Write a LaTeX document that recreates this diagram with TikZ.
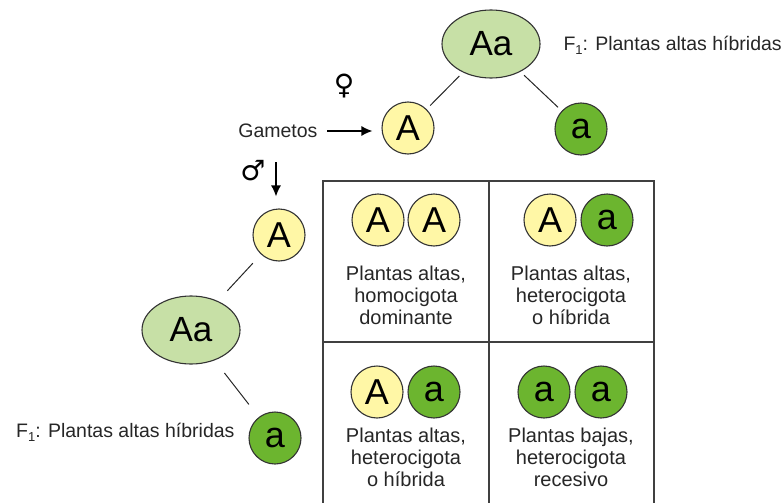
\documentclass[tikz,border=0pt]{standalone}
\usepackage{fontspec}
\setmainfont{Liberation Sans}
\newfontfamily\symfont{DejaVu Sans}
\usetikzlibrary{shapes.geometric,arrows.meta}
\definecolor{yelA}{HTML}{FFF7A6}
\definecolor{grnA}{HTML}{6CB52F}
\definecolor{ellG}{HTML}{C7E0A6}
\definecolor{lineC}{HTML}{333333}
\newcommand{\fsub}{F{\fontsize{13}{13}\selectfont\raisebox{-4pt}{1}}}
\tikzset{
  allele/.style={circle, draw=lineC, line width=1.1pt, minimum size=52pt, inner sep=0pt, font=\fontsize{36}{36}\selectfont},
  dom/.style={allele, fill=yelA},
  rec/.style={allele, fill=grnA},
  parent/.style={ellipse, draw=lineC, line width=1.1pt, fill=ellG, minimum width=98pt, minimum height=68pt, inner sep=0pt, font=\fontsize{35}{35}\selectfont},
  lbl/.style={font=\fontsize{20}{22}\selectfont, align=center, text=black!85},
  side/.style={font=\fontsize{19.5}{21}\selectfont, text=black!85},
  conn/.style={line width=1pt, draw=black!85},
  grid/.style={line width=1.2pt, draw=black!75},
  arr/.style={line width=1.4pt, -{Latex[length=11pt,width=10pt]}},
}
\begin{document}
\begin{tikzpicture}[x=1pt,y=-1pt]
\useasboundingbox (0,0) rectangle (784,503);
% grid
\coordinate (g1) at (323,181);
\coordinate (g2) at (654,181);
\coordinate (g3) at (323,503);
\coordinate (g4) at (654,503);
\coordinate (g5) at (489,181);
\coordinate (g6) at (489,503);
\coordinate (g7) at (323,342);
\coordinate (g8) at (654,342);
\draw[grid] (g3) -- (g1) -- (g2) -- (g4);
\draw[grid] (g5) -- (g6);
\draw[grid] (g7) -- (g8);
% top parent
\node[parent] (P1) at (491,44) {Aa};
\node[dom] (T1) at (408,128) {A};
\node[rec] (T2) at (581,129) {a};
\draw[conn, shorten <=5pt, shorten >=5pt] (P1) -- (T1);
\draw[conn, shorten <=5pt, shorten >=5pt] (P1) -- (T2);
\node[side, anchor=west] (F1a) at (560,45) {\fsub: Plantas altas híbridas};
\node[font=\symfont\fontsize{28}{28}\selectfont] (fem) at (344,86) {♀};
\node[side, anchor=east] (gam) at (321,131) {Gametos};
\coordinate (ga1) at (327,131);
\draw[arr, shorten >=9pt] (ga1) -- (T1.west |- ga1);
% left parent
\node[parent] (P2) at (191,330) {Aa};
\node[dom] (L1) at (279,235) {A};
\node[rec] (L2) at (275,438) {a};
\draw[conn, shorten <=14pt, shorten >=12pt] (P2) -- (L1);
\draw[conn, shorten <=16pt, shorten >=16pt] (P2) -- (L2);
\node[side, anchor=east] (F1b) at (238,432) {\fsub: Plantas altas híbridas};
\node[font=\symfont\fontsize{28}{28}\selectfont] (mal) at (253,171) {♂};
\coordinate (ma1) at (276,162);
\draw[arr, shorten >=12pt] (ma1) -- (ma1 |- L1.north);
% cell 1
\node[dom] (c1a) at (378,220) {A};
\node[dom] (c1b) at (434,220) {A};
\node[lbl] (t1) at (406,295) {Plantas altas,\\homocigota\\dominante};
% cell 2
\node[dom] (c2a) at (550,220) {A};
\node[rec] (c2b) at (607,220) {a};
\node[lbl] (t2) at (571,295) {Plantas altas,\\heterocigota\\o híbrida};
% cell 3
\node[dom] (c3a) at (377,392) {A};
\node[rec] (c3b) at (434,392) {a};
\node[lbl] (t3) at (406,457) {Plantas altas,\\heterocigota\\o híbrida};
% cell 4
\node[rec] (c4a) at (544,392) {a};
\node[rec] (c4b) at (601,392) {a};
\node[lbl] (t4) at (571,457) {Plantas bajas,\\heterocigota\\recesivo};
\end{tikzpicture}
\end{document}
